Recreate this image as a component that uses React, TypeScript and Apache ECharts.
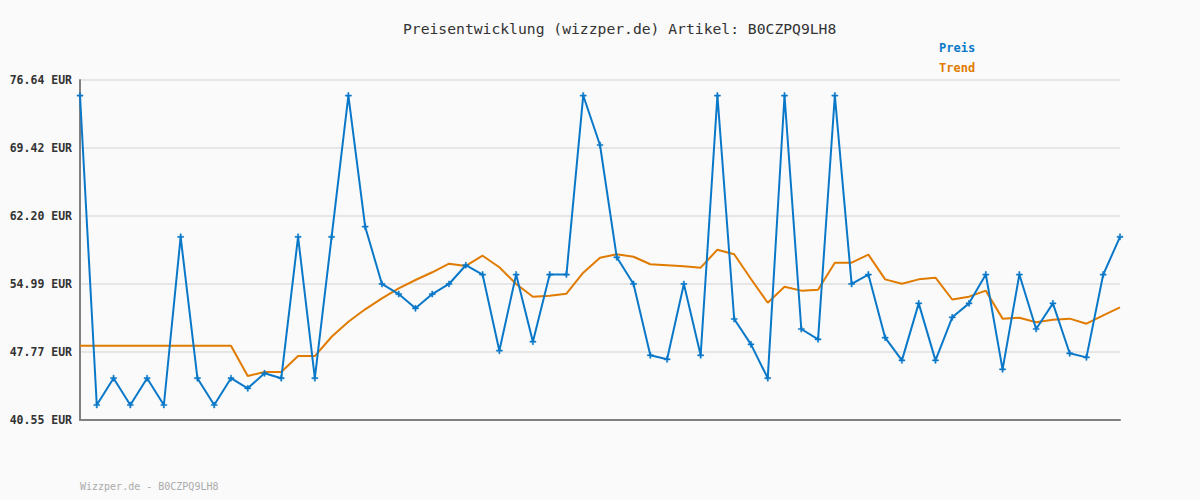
import React, { useEffect, useRef } from "react";
import * as echarts from "echarts";

const TITLE = "Preisentwicklung (wizzper.de) Artikel: B0CZPQ9LH8";
const FOOTER = "Wizzper.de - B0CZPQ9LH8";
const CURRENCY = "EUR";

const yTicks = [40.55, 47.77, 54.99, 62.2, 69.42, 76.64];

const preis = [
  74.99, 42.14, 44.99, 42.14, 44.99, 42.14, 59.99, 44.99, 42.14, 44.99,
  43.91, 45.51, 44.99, 59.99, 44.99, 59.99, 74.99, 61.07, 54.99, 53.92,
  52.4, 53.92, 54.99, 56.98, 55.99, 47.91, 55.99, 48.86, 55.99, 55.99,
  74.99, 69.74, 57.82, 54.99, 47.42, 46.99, 54.99, 47.42, 74.99, 51.27,
  48.58, 44.99, 74.99, 50.21, 49.11, 74.99, 54.99, 55.99, 49.29, 46.88,
  52.93, 46.88, 51.45, 52.93, 55.99, 45.93, 55.99, 50.21, 52.93, 47.63,
  47.2, 55.99, 59.99,
];

const trend = [
  48.44, 48.44, 48.44, 48.44, 48.44, 48.44, 48.44, 48.44, 48.44, 48.44,
  45.22, 45.64, 45.64, 47.34, 47.34, 49.39, 50.98, 52.3, 53.46, 54.53,
  55.41, 56.23, 57.14, 56.9, 57.99, 56.76, 54.99, 53.64, 53.74, 53.96,
  56.19, 57.78, 58.14, 57.88, 57.08, 56.97, 56.86, 56.72, 58.63, 58.14,
  55.52, 53.0, 54.7, 54.28, 54.38, 57.25, 57.25, 58.1, 55.48, 55.02,
  55.48, 55.66, 53.34, 53.64, 54.28, 51.31, 51.41, 50.92, 51.2, 51.31,
  50.77, 51.66, 52.51,
];

const categories = preis.map((_, i) => String(i + 1));

const BLUE = "#0a78c8";
const ORANGE = "#e07b00";
const MONO = "'DejaVu Sans Mono', 'Liberation Mono', monospace";

export default function App() {
  const ref = useRef<HTMLDivElement>(null);
  useEffect(() => {
    if (!ref.current) return;
    const chart = echarts.init(ref.current, undefined, { renderer: "svg" });
    chart.setOption({
      animation: false,
      backgroundColor: "#fafafa",
      title: {
        text: TITLE,
        left: 403,
        top: 21,
        padding: 0,
        textStyle: { fontFamily: MONO, fontSize: 14.7, fontWeight: "normal", color: "#333" },
      },
      legend: {
        orient: "vertical",
        left: 928,
        top: 37,
        itemGap: 8,
        itemWidth: 0,
        itemHeight: 0,
        icon: "rect",
        selectedMode: false,
        textStyle: { fontFamily: MONO, fontSize: 12, fontWeight: "bold" },
        data: [
          { name: "Preis", textStyle: { color: BLUE } },
          { name: "Trend", textStyle: { color: ORANGE } },
        ],
      },
      graphic: [
        {
          type: "text",
          left: 80,
          top: 481,
          style: { text: FOOTER, fill: "#aaa", font: `10px ${MONO}` },
        },
      ],
      grid: { left: 80, right: 80, top: 80, bottom: 80, containLabel: false },
      xAxis: {
        type: "category",
        data: categories,
        boundaryGap: false,
        axisLine: { show: true, lineStyle: { color: "#808080", width: 2 } },
        axisTick: { show: false },
        axisLabel: { show: false },
        splitLine: { show: false },
      },
      yAxis: {
        type: "value",
        min: yTicks[0],
        max: yTicks[yTicks.length - 1],
        axisLine: { show: true, lineStyle: { color: "#808080", width: 2 } },
        axisTick: { show: false, customValues: yTicks },
        axisLabel: {
          customValues: yTicks,
          margin: 8,
          fontFamily: MONO,
          fontSize: 11.5,
          fontWeight: "bold",
          color: "#333",
          formatter: (v: number) => `${v.toFixed(2)} ${CURRENCY}`,
        },
        splitLine: { show: true, lineStyle: { color: "#e6e6e6", width: 2 } },
      },
      series: [
        {
          name: "Preis",
          type: "line",
          data: preis,
          color: BLUE,
          showSymbol: true,
          showAllSymbol: true,
          symbol: "path://M2,0H3V2H5V3H3V5H2V3H0V2H2Z",
          symbolSize: 6,
          itemStyle: { color: BLUE, borderColor: BLUE, borderWidth: 0.5 },
          lineStyle: { color: BLUE, width: 2 },
          z: 3,
        },
        {
          name: "Trend",
          type: "line",
          data: trend,
          color: ORANGE,
          showSymbol: false,
          symbol: "none",
          lineStyle: { color: ORANGE, width: 2 },
          z: 2,
        },
      ],
    });
    return () => chart.dispose();
  }, []);
  return (
    <div
      ref={ref}
      style={{ position: "fixed", left: 0, top: 0, width: 1200, height: 500 }}
    />
  );
}
